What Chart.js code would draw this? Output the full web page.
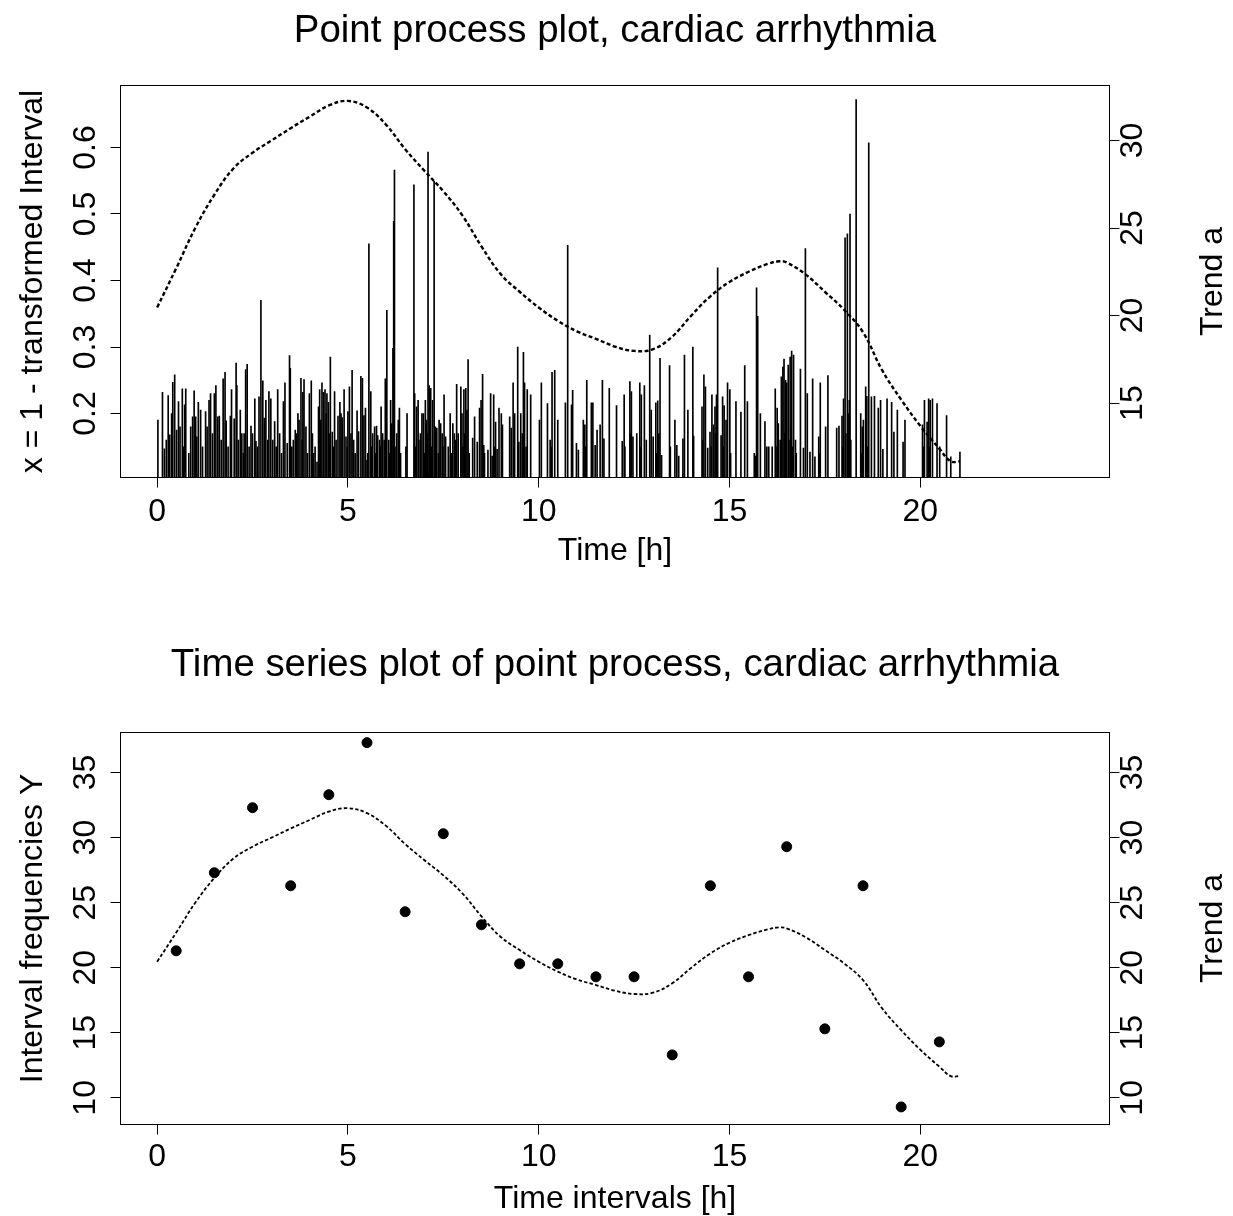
<!DOCTYPE html>
<html><head><meta charset="utf-8">
<script src="https://cdn.jsdelivr.net/npm/chart.js@4.4.1/dist/chart.umd.min.js"></script>
<style>
html,body{margin:0;padding:0;background:#fff;width:1233px;height:1216px;overflow:hidden}
canvas{position:absolute;left:0}
#c1{top:0}
#c2{top:608px}
</style></head><body>
<canvas id="c1" width="1233" height="608"></canvas>
<canvas id="c2" width="1233" height="608"></canvas>
<script>
// ---------- data ----------
const spikeTimes = [
0.02,0.14,0.19,0.24,0.29,0.33,0.38,0.41,0.46,0.51,0.56,0.60,0.66,0.70,0.72,0.75,0.83,0.88,0.93,0.97,
1.01,1.04,1.08,1.14,1.19,1.27,1.31,1.36,1.40,1.45,1.50,1.54,1.59,1.63,1.68,1.73,1.78,1.81,1.86,1.92,1.95,
2.02,2.07,2.09,2.13,2.18,2.22,2.26,2.28,2.32,2.36,2.41,2.46,2.50,2.56,2.59,2.63,2.67,2.72,2.77,2.81,2.85,2.90,2.93,2.98,
3.03,3.08,3.12,3.16,3.21,3.26,3.31,3.35,3.41,3.47,3.49,3.53,3.57,3.62,3.66,3.69,3.72,3.77,3.80,3.82,3.85,3.90,3.94,3.99,
4.04,4.07,4.10,4.14,4.19,4.23,4.26,4.29,4.32,4.36,4.40,4.43,4.45,4.49,4.52,4.54,4.59,4.62,4.65,4.69,4.74,4.79,4.82,4.85,4.90,4.95,4.98,
5.00,5.04,5.08,5.11,5.15,5.19,5.24,5.28,5.34,5.38,5.42,5.46,5.50,5.52,5.55,5.60,5.62,5.65,5.70,5.72,5.75,5.78,5.83,5.85,5.87,5.91,5.95,5.98,
6.02,6.07,6.10,6.12,6.15,6.18,6.20,6.22,6.26,6.28,6.32,6.35,6.38,6.52,6.55,6.73,6.75,6.78,6.80,6.84,6.86,6.90,6.94,6.98,
7.00,7.03,7.06,7.08,7.10,7.13,7.17,7.19,7.22,7.26,7.29,7.33,7.37,7.39,7.43,7.47,7.49,7.52,7.56,7.63,7.68,7.71,7.75,7.79,7.82,7.85,7.89,7.96,7.99,
8.01,8.04,8.06,8.09,8.12,8.15,8.18,8.27,8.32,8.39,8.45,8.49,8.53,8.56,8.58,8.67,8.74,8.78,8.82,8.85,8.87,8.91,8.96,
9.02,9.05,9.24,9.28,9.33,9.35,9.37,9.45,9.48,9.53,9.57,9.60,9.63,9.67,9.70,9.79,
10.02,10.07,10.23,10.30,10.33,10.35,10.42,10.50,10.70,10.76,10.86,10.89,10.99,
11.04,11.17,11.21,11.23,11.26,11.38,11.40,11.42,11.48,11.53,11.61,11.67,11.71,11.85,
12.04,12.19,12.24,12.26,12.39,12.41,12.43,12.47,12.57,12.65,12.67,12.69,12.77,12.82,12.91,12.95,
13.00,13.07,13.09,13.12,13.15,13.18,13.22,13.43,13.45,13.57,13.62,13.67,13.78,13.82,13.91,
14.04,14.06,14.28,14.30,14.33,14.37,14.43,14.49,14.52,14.54,14.58,14.62,14.64,14.66,14.69,14.78,14.82,14.84,14.86,14.91,14.95,
15.01,15.03,15.17,15.30,15.40,15.47,15.65,15.69,15.71,15.74,15.81,15.93,15.98,
16.03,16.12,16.20,16.22,16.25,16.28,16.33,16.36,16.40,16.43,16.45,16.47,16.50,16.54,16.56,16.59,16.61,16.63,16.65,16.68,16.73,16.75,16.86,16.94,16.99,
17.04,17.11,17.18,17.24,17.34,17.36,17.38,17.52,17.58,17.81,17.87,17.95,17.97,17.99,
18.03,18.05,18.09,18.11,18.14,18.16,18.18,18.32,18.44,18.46,18.48,18.51,18.57,18.60,18.62,18.65,18.72,18.80,18.90,18.96,
19.02,19.13,19.25,19.31,19.40,19.55,19.60,
20.06,20.08,20.11,20.18,20.22,20.24,20.26,20.32,20.44,20.51,20.69,20.80,21.04
];
const spikeValues = [
0.19,0.232,0.147,0.16,0.227,0.168,0.20,0.247,0.258,0.175,0.218,0.18,0.237,0.15,0.213,0.237,0.14,0.18,0.195,0.234,
0.195,0.165,0.217,0.205,0.15,0.203,0.18,0.22,0.23,0.17,0.23,0.242,0.195,0.196,0.16,0.252,0.262,0.189,0.15,0.196,0.236,
0.192,0.276,0.242,0.16,0.205,0.17,0.14,0.17,0.266,0.274,0.15,0.181,0.17,0.222,0.158,0.15,0.225,0.37,0.249,0.193,0.22,0.16,0.233,0.222,
0.16,0.188,0.15,0.236,0.17,0.14,0.218,0.246,0.155,0.287,0.268,0.15,0.16,0.175,0.17,0.20,0.19,0.253,0.16,0.232,0.251,0.18,0.14,0.23,
0.249,0.17,0.14,0.15,0.127,0.21,0.236,0.19,0.246,0.232,0.236,0.20,0.23,0.217,0.17,0.285,0.172,0.15,0.233,0.16,0.196,0.217,0.20,0.194,0.236,0.165,0.15,
0.203,0.24,0.17,0.265,0.16,0.14,0.204,0.173,0.256,0.253,0.197,0.208,0.13,0.14,0.455,0.233,0.15,0.17,0.18,0.14,0.181,0.167,0.16,0.15,0.21,0.17,0.16,0.252,
0.355,0.16,0.14,0.22,0.185,0.298,0.489,0.566,0.15,0.17,0.19,0.208,0.14,0.15,0.20,0.544,0.23,0.15,0.21,0.22,0.16,0.17,0.20,0.20,
0.14,0.22,0.19,0.17,0.593,0.242,0.238,0.15,0.22,0.549,0.18,0.178,0.14,0.19,0.185,0.17,0.15,0.228,0.165,0.15,0.20,0.14,0.185,0.17,0.16,0.244,0.17,0.24,0.20,
0.15,0.236,0.17,0.238,0.205,0.281,0.14,0.163,0.195,0.157,0.208,0.22,0.259,0.152,0.14,0.145,0.23,0.136,0.228,0.15,0.187,0.146,0.208,
0.20,0.183,0.195,0.178,0.246,0.15,0.20,0.30,0.157,0.20,0.17,0.292,0.246,0.15,0.236,0.228,
0.19,0.246,0.215,0.16,0.15,0.262,0.265,0.19,0.216,0.453,0.213,0.235,0.155,
0.145,0.19,0.183,0.15,0.25,0.216,0.16,0.216,0.152,0.175,0.183,0.25,0.162,0.238,
0.212,0.158,0.228,0.15,0.248,0.17,0.233,0.165,0.17,0.246,0.15,0.228,0.242,0.16,0.318,0.205,
0.165,0.216,0.14,0.219,0.17,0.283,0.137,0.272,0.15,0.19,0.152,0.136,0.162,0.288,0.205,
0.30,0.166,0.21,0.16,0.258,0.24,0.148,0.172,0.15,0.228,0.183,0.21,0.17,0.228,0.419,0.167,0.225,0.15,0.212,0.19,0.246,
0.236,0.14,0.218,0.202,0.272,0.218,0.14,0.136,0.389,0.346,0.20,0.188,0.15,
0.15,0.15,0.237,0.15,0.208,0.185,0.16,0.255,0.27,0.282,0.17,0.25,0.246,0.273,0.16,0.285,0.18,0.294,0.15,0.288,0.16,0.14,0.267,0.148,0.448,
0.23,0.142,0.252,0.135,0.165,0.14,0.246,0.18,0.257,0.178,0.181,0.196,0.15,0.222,
0.464,0.17,0.47,0.20,0.22,0.50,0.16,0.672,0.20,0.14,0.18,0.19,0.24,0.226,0.15,0.607,0.225,0.226,0.208,0.22,
0.146,0.222,0.217,0.172,0.205,0.157,0.19,
0.183,0.15,0.22,0.187,0.222,0.15,0.22,0.222,0.215,0.15,0.197,0.135,0.142
];
const trendTimes = [0,0.5,1,1.5,2,2.5,3,3.5,4,4.5,5,5.5,6,6.5,7,7.5,8,8.5,9,9.5,10,10.5,11,11.5,12,12.5,13,13.5,14,14.5,15,15.5,16,16.3,16.5,17,17.5,18,18.5,19,19.5,20,20.5,20.8,21.04];
const trendValues = [20.46,22.7,25.0,26.9,28.4,29.3,30.0,30.7,31.36,32.0,32.26,31.88,30.9,29.5,28.28,27.1,25.72,23.95,22.38,21.36,20.46,19.7,19.1,18.67,18.23,17.98,18.08,18.8,20.0,21.1,21.92,22.5,22.95,23.1,23.03,22.34,21.36,20.34,19.05,16.88,15.2,13.7,12.4,11.67,11.67];
const hourMidpoints = [0.5,1.5,2.5,3.5,4.5,5.5,6.5,7.5,8.5,9.5,10.5,11.5,12.5,13.5,14.5,15.5,16.5,17.5,18.5,19.5,20.5];
const intervalFreq = [21.3,27.3,32.3,26.3,33.3,37.3,24.3,30.3,23.3,20.3,20.3,19.3,19.3,13.3,26.3,19.3,29.3,15.3,26.3,9.3,14.3];
const timeTicks = [0,5,10,15,20];
const intervalTicks = [0.2,0.3,0.4,0.5,0.6];
const trendTicksTop = [15,20,25,30];
const freqTicks = [10,15,20,25,30,35];

// ---------- drawing helpers ----------
const FONT = '"Liberation Sans", Arial, Helvetica, sans-serif';
const rText = {
  id: 'rText',
  afterDraw(chart, args, o) {
    const ctx = chart.ctx, a = chart.chartArea;
    ctx.save();
    ctx.strokeStyle = '#000'; ctx.lineWidth = 1;
    ctx.strokeRect(a.left, a.top, a.right - a.left, a.bottom - a.top);
    ctx.fillStyle = '#000';
    ctx.textAlign = 'center'; ctx.textBaseline = 'alphabetic';
    ctx.font = o.titleSize + 'px ' + FONT;
    ctx.fillText(o.title, (a.left + a.right) / 2, o.titleBase);
    ctx.font = o.size + 'px ' + FONT;
    const xs = chart.scales.x;
    xs.ticks.forEach(t => ctx.fillText(String(t.value), xs.getPixelForValue(t.value), o.xTickBase));
    ctx.fillText(o.xTitle, (a.left + a.right) / 2, o.xTitleBase);
    const vert = (txt, x, y) => { ctx.save(); ctx.translate(x, y); ctx.rotate(-Math.PI / 2); ctx.fillText(txt, 0, 0); ctx.restore(); };
    const yl = chart.scales.y, yr = chart.scales.y2;
    yl.ticks.forEach(t => vert(t.value.toFixed(o.yDigits), o.yTickBase, yl.getPixelForValue(t.value)));
    yr.ticks.forEach(t => vert(t.value.toFixed(0), o.y2TickBase, yr.getPixelForValue(t.value)));
    const mid = (a.top + a.bottom) / 2;
    vert(o.yTitle, o.yTitleBase, mid);
    vert(o.y2Title, o.y2TitleBase, mid);
    ctx.restore();
  }
};
const tickGrid = { display: true, drawOnChartArea: false, drawTicks: true, tickLength: 10, color: '#000', lineWidth: 1, offset: false };
function axis(pos, min, max, tickVals, size) {
  const s = {
    type: 'linear', position: pos, min: min, max: max, offset: false,
    grid: tickGrid, border: { display: false },
    ticks: { display: false },
    afterBuildTicks: sc => { sc.ticks = tickVals.map(v => ({ value: v })); }
  };
  if (pos === 'bottom') s.afterFit = sc => { sc.height = size; };
  else s.afterFit = sc => { sc.width = size; };
  return s;
}

// ---------- chart 1: point process ----------
new Chart(document.getElementById('c1'), {
  type: 'bar',
  data: {
    datasets: [
      { type: 'bar', data: spikeTimes.map((t, i) => ({ x: t, y: spikeValues[i] })),
        backgroundColor: '#000', borderWidth: 0, barThickness: 1, grouped: false,
        xAxisID: 'x', yAxisID: 'y', clip: 0, order: 2 },
      { type: 'line', data: trendTimes.map((t, i) => ({ x: t, y: trendValues[i] })),
        borderColor: '#000', borderWidth: 2.4, borderDash: [4, 2.5], pointRadius: 0,
        tension: 0.4, fill: false, xAxisID: 'x', yAxisID: 'y2', order: 1 }
    ]
  },
  options: {
    responsive: false, animation: false, devicePixelRatio: 1,
    layout: { padding: { top: 85.5, left: 0, right: 0, bottom: 0 } },
    plugins: {
      legend: { display: false }, tooltip: { enabled: false }, title: { display: false },
      rText: { title: 'Point process plot, cardiac arrhythmia', titleSize: 38.4, titleBase: 42, size: 32,
        xTickBase: 521, xTitle: 'Time [h]', xTitleBase: 560,
        yDigits: 1, yTickBase: 95, yTitle: 'x = 1 - transformed Interval', yTitleBase: 42,
        y2TickBase: 1142, y2Title: 'Trend a', y2TitleBase: 1222 }
    },
    scales: {
      x: axis('bottom', -0.96, 24.96, timeTicks, 130.5),
      y: axis('left', 0.1038, 0.6932, intervalTicks, 120.5),
      y2: axis('right', 10.75, 33.14, trendTicksTop, 123.5)
    }
  },
  plugins: [rText]
});

// ---------- chart 2: time series ----------
new Chart(document.getElementById('c2'), {
  type: 'scatter',
  data: {
    datasets: [
      { type: 'scatter', data: hourMidpoints.map((t, i) => ({ x: t, y: intervalFreq[i] })),
        backgroundColor: '#000', borderColor: '#000', pointRadius: 5, borderWidth: 1,
        xAxisID: 'x', yAxisID: 'y', order: 2 },
      { type: 'line', data: trendTimes.map((t, i) => ({ x: t, y: trendValues[i] })),
        borderColor: '#000', borderWidth: 1.8, borderDash: [3.5, 2.2], pointRadius: 0,
        tension: 0.4, fill: false, xAxisID: 'x', yAxisID: 'y2', order: 1 }
    ]
  },
  options: {
    responsive: false, animation: false, devicePixelRatio: 1,
    layout: { padding: { top: 124.5, left: 0, right: 0, bottom: 0 } },
    plugins: {
      legend: { display: false }, tooltip: { enabled: false }, title: { display: false },
      rText: { title: 'Time series plot of point process, cardiac arrhythmia', titleSize: 38.4, titleBase: 68, size: 32,
        xTickBase: 558, xTitle: 'Time intervals [h]', xTitleBase: 600,
        yDigits: 0, yTickBase: 95, yTitle: 'Interval frequencies Y', yTitleBase: 42,
        y2TickBase: 1142, y2Title: 'Trend a', y2TitleBase: 1222 }
    },
    scales: {
      x: axis('bottom', -0.96, 24.96, timeTicks, 91.5),
      y: axis('left', 7.95, 38.08, freqTicks, 120.5),
      y2: axis('right', 7.95, 38.08, freqTicks, 123.5)
    }
  },
  plugins: [rText]
});
</script>
</body></html>
